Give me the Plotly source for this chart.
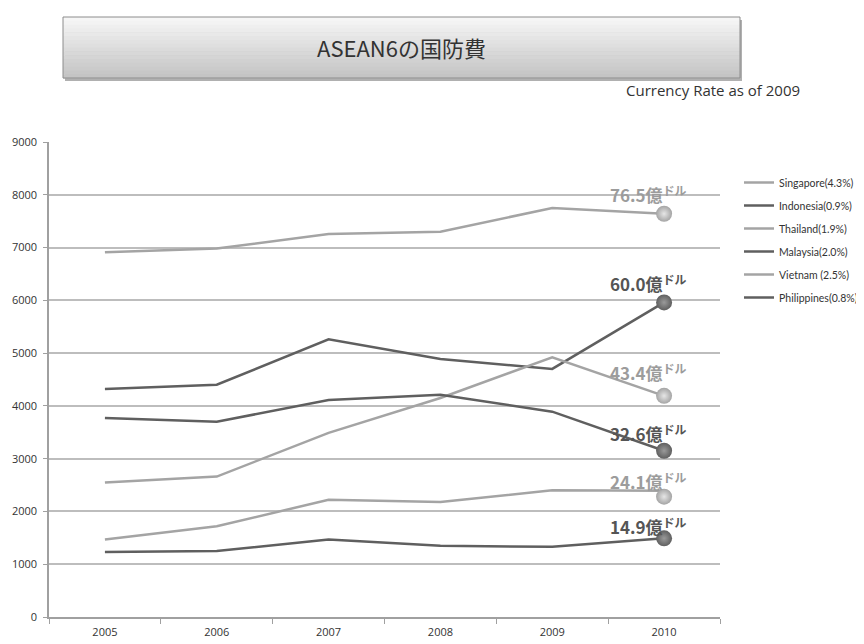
import plotly.graph_objects as go

years = ['2005', '2006', '2007', '2008', '2009', '2010']
countries = ['Singapore(4.3%)', 'Indonesia(0.9%)', 'Thailand(1.9%)',
             'Malaysia(2.0%)', 'Vietnam (2.5%)', 'Philippines(0.8%)']
singapore = [6910, 6980, 7255, 7300, 7750, 7640]
indonesia = [4320, 4400, 5260, 4890, 4700, 5960]
thailand = [2550, 2660, 3490, 4150, 4920, 4190]
malaysia = [3770, 3700, 4110, 4210, 3890, 3150]
vietnam = [1470, 1720, 2220, 2180, 2400, 2390]
philippines = [1230, 1250, 1470, 1350, 1330, 1490]
end_marker = [7640, 5960, 4190, 3150, 2280, 1490]
end_labels = ['76.5', '60.0', '43.4', '32.6', '24.1', '14.9']

series = [singapore, indonesia, thailand, malaysia, vietnam, philippines]
LIGHT, DARK = '#a4a4a4', '#5f5f5f'
LIGHT_TXT, DARK_TXT = '#9c9c9c', '#555555'
colors = [LIGHT, DARK, LIGHT, DARK, LIGHT, DARK]
txt_colors = [LIGHT_TXT, DARK_TXT, LIGHT_TXT, DARK_TXT, LIGHT_TXT, DARK_TXT]
label_shift = [20, 19, 24, 18, 16, 12]

# page offset of the figure div (body margin)
OFF = 8
# plot area geometry (screen pixels)
L, R, T, B = 49 - OFF, 720 - OFF, 142 - OFF, 617 - OFF
W, H = 864 - OFF, 644 - OFF

def px_x(p):
    return (p - OFF - L) / (R - L)

def px_y(p):
    return (B - (p - OFF)) / (B - T)

fig = go.Figure()
for i, (name, vals) in enumerate(zip(countries, series)):
    fig.add_trace(go.Scatter(
        x=years, y=vals, mode='lines', name=name,
        line=dict(color=colors[i], width=2.5),
        legendgroup=name,
    ))

last_idx = len(years) - 1
for i in range(len(series)):
    fig.add_trace(go.Scatter(
        x=[years[last_idx]], y=[end_marker[i]], mode='markers', showlegend=False,
        marker=dict(size=16, color=colors[i],
                    gradient=dict(type='radial', color='#e6e6e6' if colors[i] == LIGHT else '#9a9a9a'),
                    line=dict(width=0)),
        hoverinfo='skip',
    ))

annotations = []
for i in range(len(series)):
    annotations.append(dict(
        x=last_idx, y=end_marker[i], xref='x', yref='y',
        text=f'{end_labels[i]}億<sup>ドル</sup>', showarrow=False,
        yshift=label_shift[i], xshift=-16,
        font=dict(family='Noto Sans CJK JP', size=17, color=txt_colors[i], weight='bold'),
    ))

# title box with gradient
shapes = []
bx0, bx1, by0, by1 = 63, 740, 17, 78
shapes.append(dict(type='rect', xref='paper', yref='paper',
                   x0=px_x(bx0 + 2), x1=px_x(bx1 + 2), y0=px_y(by1 + 3), y1=px_y(by0 + 3),
                   fillcolor='#b0b0b0', line=dict(width=0), layer='below'))
n = 16
c_top, c_bot = 246, 196
for k in range(n):
    y_a = by0 + (by1 - by0) * k / n
    y_b = by0 + (by1 - by0) * (k + 1) / n
    c = round(c_top + (c_bot - c_top) * k / (n - 1))
    shapes.append(dict(type='rect', xref='paper', yref='paper',
                       x0=px_x(bx0), x1=px_x(bx1), y0=px_y(y_b + 0.5), y1=px_y(y_a),
                       fillcolor=f'rgb({c},{c},{c})', line=dict(width=0), layer='below'))
shapes.append(dict(type='rect', xref='paper', yref='paper',
                   x0=px_x(bx0), x1=px_x(bx1), y0=px_y(by1), y1=px_y(by0),
                   fillcolor='rgba(0,0,0,0)', line=dict(color='#8c8c8c', width=1)))

annotations.append(dict(
    x=px_x((bx0 + bx1) / 2), y=px_y(47), xref='paper', yref='paper',
    text='ASEAN6の国防費', showarrow=False, xanchor='center', yanchor='middle',
    font=dict(family='Noto Sans CJK JP', size=22, color='#333333'),
))
annotations.append(dict(
    x=px_x(802), y=px_y(90), xref='paper', yref='paper',
    text='Currency Rate as of 2009', showarrow=False, xanchor='right', yanchor='middle',
    font=dict(family='Open Sans', size=15, color='#333333'),
))

fig.update_layout(
    width=W, height=H, autosize=False,
    margin=dict(l=L, r=W - R, t=T, b=H - B, autoexpand=False),
    paper_bgcolor='white', plot_bgcolor='white',
    shapes=shapes, annotations=annotations,
    legend=dict(x=px_x(739), y=px_y(168), xanchor='left', yanchor='top',
                font=dict(family='Lato', size=10.5, color='#333333'),
                bgcolor='rgba(0,0,0,0)', tracegroupgap=4, itemwidth=30),
    showlegend=True,
)
fig.update_xaxes(
    type='category', range=[-0.5, 5.5], tickson='boundaries',
    showgrid=False, showline=True, linecolor='#a0a0a0', linewidth=1.5,
    ticks='outside', ticklen=5, tickcolor='#a0a0a0', ticklabelstandoff=4,
    tickfont=dict(family='Open Sans', size=11, color='#333333'),
)
fig.update_yaxes(
    range=[0, 9000], dtick=1000, showgrid=True, gridcolor='#bdbdbd', gridwidth=1.5,
    showline=True, linecolor='#a0a0a0', linewidth=1.5, zeroline=False,
    ticks='outside', ticklen=4, tickcolor='#a0a0a0', ticklabelstandoff=4,
    tickfont=dict(family='Open Sans', size=11, color='#333333'),
)

fig.write_html('out.html')
